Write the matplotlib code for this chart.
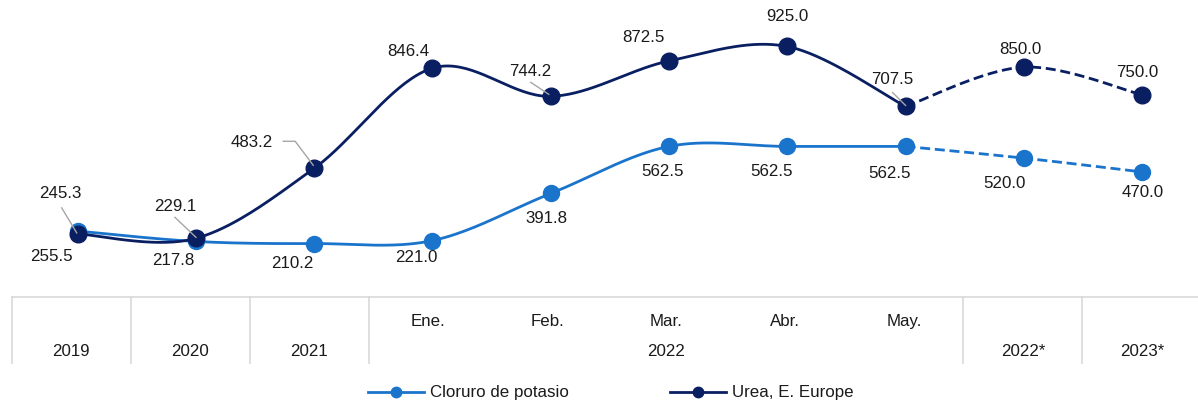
import numpy as np
import matplotlib
matplotlib.use("Agg")
import matplotlib.pyplot as plt
from matplotlib.lines import Line2D

plt.rcParams['font.family'] = ['Liberation Sans', 'DejaVu Sans']

# ---------------- data ----------------
categories = ["2019", "2020", "2021", "Ene.", "Feb.", "Mar.", "Abr.", "May.", "2022*", "2023*"]
month_labels = ["", "", "", "Ene.", "Feb.", "Mar.", "Abr.", "May.", "", ""]
year_groups = [("2019", 0, 0), ("2020", 1, 1), ("2021", 2, 2), ("2022", 3, 7),
               ("2022*", 8, 8), ("2023*", 9, 9)]
cloruro = [255.5, 217.8, 210.2, 221.0, 391.8, 562.5, 562.5, 562.5, 520.0, 470.0]
urea = [245.3, 229.1, 483.2, 846.4, 744.2, 872.5, 925.0, 707.5, 850.0, 750.0]
series_names = ["Cloruro de potasio", "Urea, E. Europe"]
n_actual = 8  # points 0..7 solid, 7..9 projection (dashed)

# ---------------- style ----------------
C_LIGHT = "#1B74CC"
C_DARK = "#0A1F62"
TXT = "#1a1a1a"
GRID = "#d9d9d9"
LEAD = "#a6a6a6"
FS = 12.2

W, H = 1198, 404
fig = plt.figure(figsize=(W / 100, H / 100), dpi=100)

# main axes: full figure; limits chosen so categories land at the right pixels
x0_px, dx_px = 77.7, 118.26
y0_px, dy_px = 301.5, 0.2757
ax = fig.add_axes([0, 0, 1, 1])
ax.set_xlim(-x0_px / dx_px, (W - x0_px) / dx_px)
ax.set_ylim((y0_px - H) / dy_px, y0_px / dy_px)
ax.axis("off")


def smooth(xs, ys, n=40):
    xs = np.asarray(xs, float)
    ys = np.asarray(ys, float)
    P = np.column_stack([xs, ys])
    out = [P[0]]
    m = len(P)
    for i in range(m - 1):
        p0 = P[i - 1] if i > 0 else P[i]
        p1 = P[i]
        p2 = P[i + 1]
        p3 = P[i + 2] if i + 2 < m else P[i + 1]
        b1 = p1 + (p2 - p0) / 6.0
        b2 = p2 - (p3 - p1) / 6.0
        t = np.linspace(0, 1, n)[1:, None]
        seg = ((1 - t) ** 3) * p1 + 3 * ((1 - t) ** 2) * t * b1 + 3 * (1 - t) * t ** 2 * b2 + t ** 3 * p2
        out.extend(seg)
    out = np.array(out)
    return out[:, 0], out[:, 1]


x = np.arange(len(categories))
for vals, col, ms, z in [(cloruro, C_LIGHT, 11.5, 3), (urea, C_DARK, 12, 4)]:
    sx, sy = smooth(x[:n_actual], vals[:n_actual])
    ax.plot(sx, sy, color=col, lw=2.0, zorder=z, solid_capstyle="round")
    px, py = smooth(x[n_actual - 1:], vals[n_actual - 1:])
    ax.plot(px, py, color=col, lw=2.0, ls=(0, (3.6, 1.7)), zorder=z)
    ax.plot(x, vals, ls="none", marker="o", ms=ms, color=col, zorder=z + 0.5)

# data labels (pixel offsets of label centre from the point, y up)
urea_off = [(-17, 40), (-21, 32), (-62, 26), (-24, 17), (-20, 25), (-26, 23),
            (0, 30), (-13, 27), (-3, 18), (-5, 22)]
clor_off = [(-26, -25), (-23, -19), (-22, -20), (-16, -17), (-4, -25), (-6, -25),
            (-16, -25), (-16, -27), (-19, -25), (1, -21)]
for vals, offs in [(urea, urea_off), (cloruro, clor_off)]:
    for i, v in enumerate(vals):
        ax.annotate(f"{v:.1f}", (x[i], v), xytext=offs[i], textcoords="offset pixels",
                    ha="center", va="center", fontsize=FS, color=TXT, zorder=10)

# leader lines (pixel offsets of vertices relative to the point)
fig.canvas.draw()
leaders = {0: [(-16, 26), (-1, 1)], 1: [(-21, 21), (0, 1)],
           2: [(-31, 27), (-19, 27), (-1, 3)], 4: [(-20, 14), (-2, 2)],
           7: [(-13, 14), (0, 1)]}
for i, verts in leaders.items():
    px0, py0 = ax.transData.transform((x[i], urea[i]))
    vx = [px0 + a for a, b in verts]
    vy = [py0 + b for a, b in verts]
    ax.add_line(Line2D(vx, vy, transform=None, color=LEAD, lw=1.0, zorder=9))

# ---------------- category table ----------------
cell_left, cell_w = 11.7, 118.96
tab_top, tab_bot = 296.7, 363.0
tax = fig.add_axes([cell_left / W, 1 - tab_bot / H, cell_w * 10 / W, (tab_bot - tab_top) / H])
tax.set_xlim(-0.5, 9.5)
tax.set_ylim(tab_bot, tab_top)
tax.axis("off")
tax.plot([-0.5, 9.5], [tab_top, tab_top], color=GRID, lw=1.2, clip_on=False)
inner = {3.5, 4.5, 5.5, 6.5}
for b in np.arange(-0.5, 10, 1.0):
    if b in inner:
        continue
    tax.plot([b, b], [tab_top, tab_bot], color=GRID, lw=1.2, clip_on=False)
for i, lab in enumerate(month_labels):
    if lab:
        tax.text(i, 321.7, lab, ha="center", va="center", fontsize=FS, color=TXT)
for lab, a, b in year_groups:
    tax.text((a + b) / 2, 351.7, lab, ha="center", va="center", fontsize=FS, color=TXT)

# ---------------- legend ----------------
handles = [Line2D([], [], color=C_LIGHT, lw=2.0, marker="o", ms=7.5),
           Line2D([], [], color=C_DARK, lw=2.0, marker="o", ms=7.5)]
fig.legend(handles, series_names, loc="center", bbox_to_anchor=(611 / W, 1 - 393 / H),
           ncol=2, frameon=False, fontsize=FS, handlelength=3.3, handletextpad=0.35,
           columnspacing=6.0, numpoints=1, labelcolor=TXT)

fig.savefig("out.png", dpi=100)
